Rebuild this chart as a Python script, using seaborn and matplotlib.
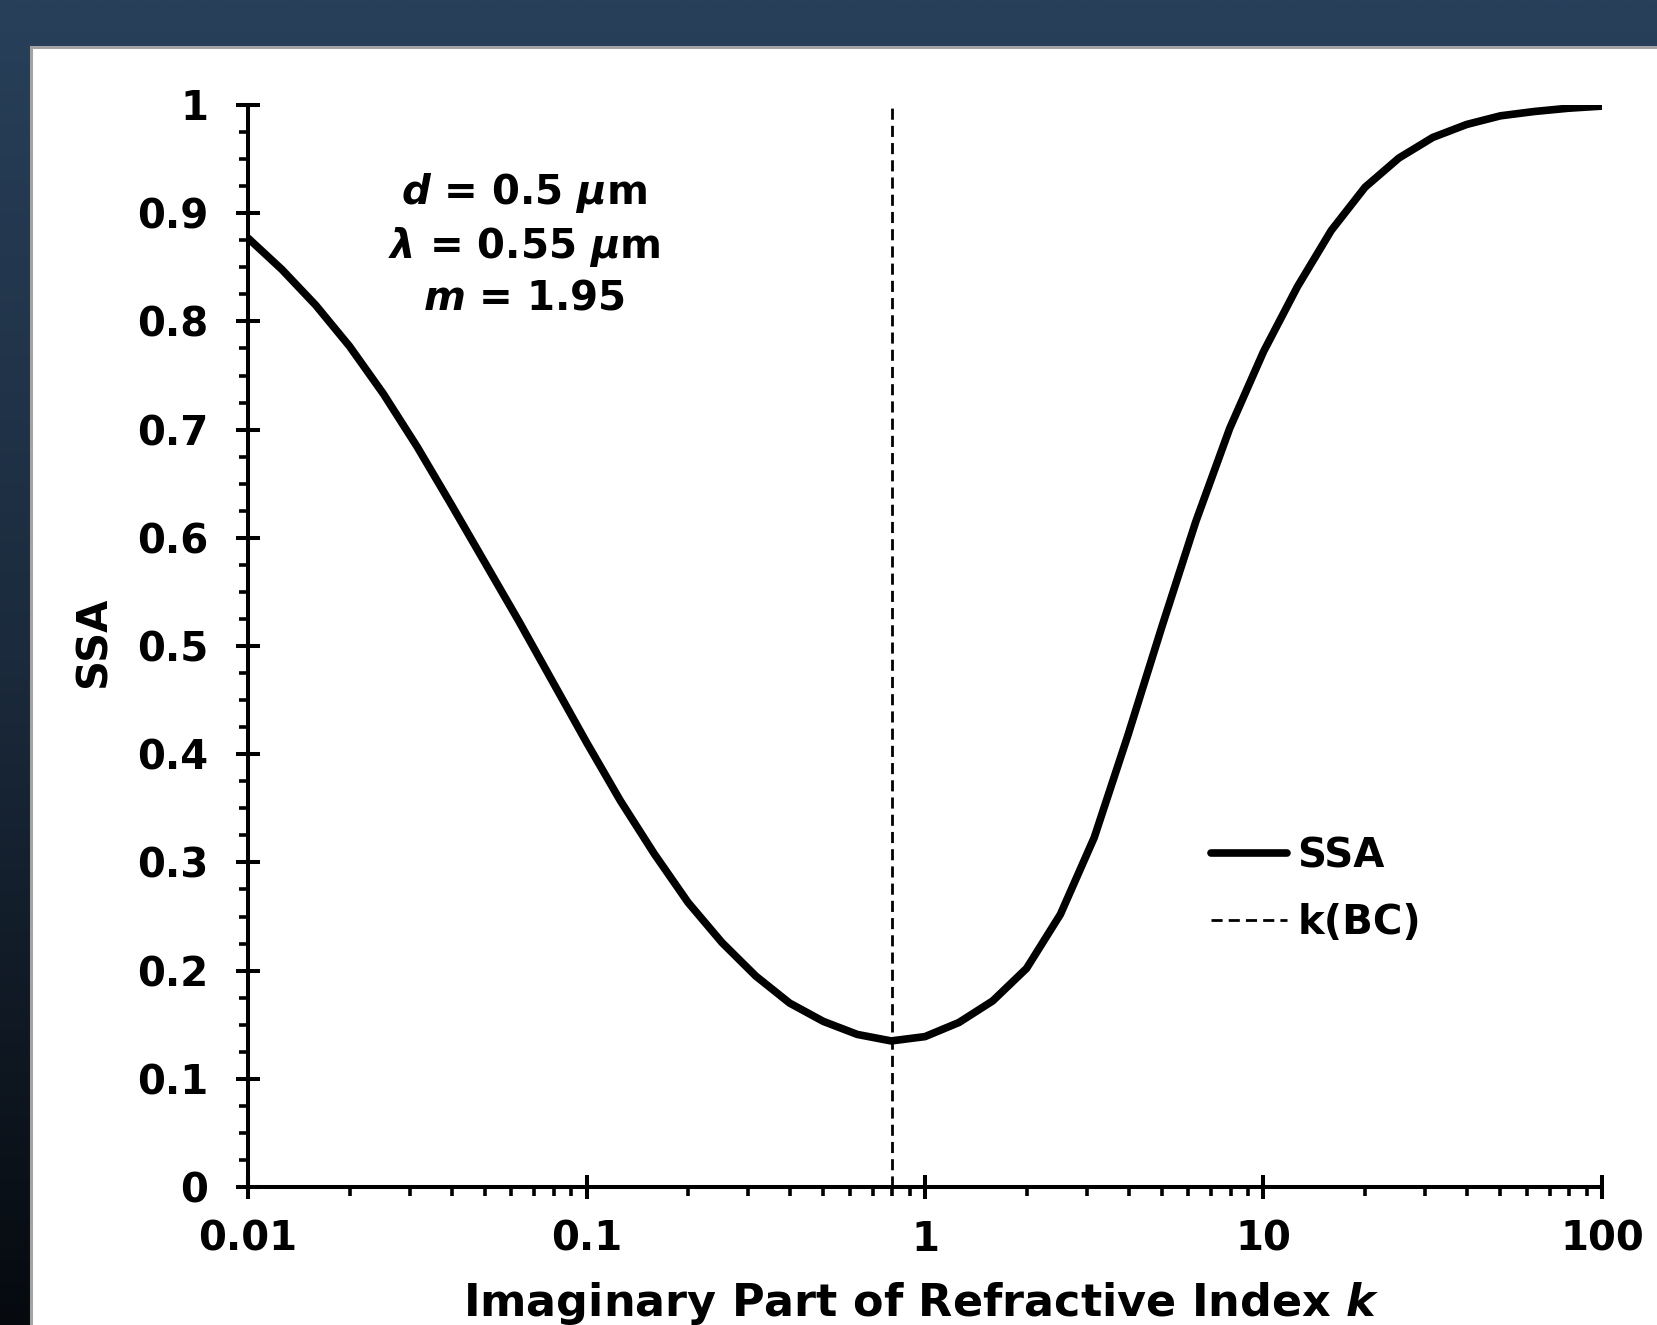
import numpy as np
import pandas as pd
import seaborn as sns
import matplotlib
matplotlib.use("Agg")
import matplotlib.pyplot as plt
from matplotlib.patches import Rectangle
from matplotlib.ticker import FixedLocator, FixedFormatter, LogLocator, MultipleLocator, NullFormatter

# ---------------- data ----------------
k_values = [0.01, 0.01259, 0.01585, 0.01995, 0.02512, 0.03162, 0.03981, 0.05012,
            0.0631, 0.07943, 0.1, 0.1259, 0.1585, 0.1995, 0.2512, 0.3162, 0.3981,
            0.5012, 0.631, 0.7943, 1.0, 1.259, 1.585, 1.995, 2.512, 3.162, 3.981,
            5.012, 6.31, 7.943, 10.0, 12.59, 15.85, 19.95, 25.12, 31.62, 39.81,
            50.12, 63.1, 79.43, 100.0]
ssa_values = [0.877, 0.848, 0.815, 0.777, 0.733, 0.684, 0.631, 0.577,
              0.523, 0.467, 0.411, 0.357, 0.308, 0.263, 0.226, 0.195, 0.170,
              0.153, 0.141, 0.135, 0.139, 0.152, 0.172, 0.202, 0.252, 0.323, 0.418,
              0.518, 0.615, 0.701, 0.772, 0.832, 0.884, 0.924, 0.951, 0.970, 0.982,
              0.990, 0.994, 0.997, 0.999]
k_bc = 0.8

series_labels = ["SSA", "k(BC)"]
x_ticks = [0.01, 0.1, 1, 10, 100]
x_tick_labels = ["0.01", "0.1", "1", "10", "100"]
y_ticks = [0, 0.1, 0.2, 0.3, 0.4, 0.5, 0.6, 0.7, 0.8, 0.9, 1.0]
y_tick_labels = ["0", "0.1", "0.2", "0.3", "0.4", "0.5", "0.6", "0.7", "0.8", "0.9", "1"]
annotation_lines = [r"$d$ = 0.5 $\mu$m", r"$\lambda$ = 0.55 $\mu$m", r"$m$ = 1.95"]
x_label = r"Imaginary Part of Refractive Index $k$"
y_label = "SSA"

# ---------------- style ----------------
sns.set_theme(style="ticks")
plt.rcParams["font.family"] = ["DejaVu Sans"]
plt.rcParams["font.weight"] = "bold"
plt.rcParams["mathtext.fontset"] = "custom"
plt.rcParams["mathtext.rm"] = "DejaVu Sans:bold"
plt.rcParams["mathtext.bf"] = "DejaVu Sans:bold"
plt.rcParams["mathtext.it"] = "DejaVu Sans:italic:bold"
plt.rcParams["axes.unicode_minus"] = False

W, H = 1658, 1325
fig = plt.figure(figsize=(W / 100, H / 100), dpi=100)

# dark navy gradient background
bg = fig.add_axes([0, 0, 1, 1], zorder=-10)
t = np.linspace(0, 1, 400)
stops = [0.0, 0.5, 1.0]
cols = np.array([[40, 64, 90], [27, 42, 60], [6, 10, 15]]) / 255.0
grad = np.stack([np.interp(t, stops, cols[:, c]) for c in range(3)], axis=-1)[:, None, :]
bg.imshow(grad, aspect="auto", extent=[0, 1, 0, 1], interpolation="bilinear")
bg.set_axis_off()

# white panel
panel = Rectangle((31 / W, -0.01), 1.0, 1 - 47 / H + 0.01, transform=fig.transFigure,
                  facecolor="white", edgecolor="#a3a3a3", lw=2.2, zorder=-5)
fig.add_artist(panel)

# main axes
ax = fig.add_axes([248 / W, 1 - 1187 / H, 1354 / W, 1082 / H])
ax.set_facecolor("none")
ax.set_xscale("log")

df = pd.DataFrame({"k": k_values, "SSA": ssa_values})
sns.lineplot(data=df, x="k", y="SSA", ax=ax, color="black", lw=5.5,
             label=series_labels[0], sort=False, zorder=3)
for ln in ax.get_lines():
    ln.set_solid_joinstyle("round")
ax.axvline(k_bc, ymin=0, ymax=1, color="black", lw=2.0, linestyle="--",
           dashes=(4, 2.2), label=series_labels[1], zorder=2)

ax.set_xlim(0.01, 100)
ax.set_ylim(0, 1)

for side in ["top", "right"]:
    ax.spines[side].set_visible(False)
for side in ["left", "bottom"]:
    ax.spines[side].set_linewidth(2.9)
    ax.spines[side].set_color("black")

ax.xaxis.set_major_locator(FixedLocator(x_ticks))
ax.xaxis.set_major_formatter(FixedFormatter(x_tick_labels))
ax.xaxis.set_minor_locator(LogLocator(base=10, subs=np.arange(2, 10), numticks=20))
ax.xaxis.set_minor_formatter(NullFormatter())
ax.yaxis.set_major_locator(FixedLocator(y_ticks))
ax.yaxis.set_major_formatter(FixedFormatter(y_tick_labels))
ax.yaxis.set_minor_locator(MultipleLocator(0.025))

ax.tick_params(axis="both", which="major", direction="inout", length=17.5, width=2.9,
               color="black", labelsize=29, labelcolor="black")
ax.tick_params(axis="x", which="major", pad=15)
ax.tick_params(axis="y", which="major", pad=20)
ax.tick_params(axis="both", which="minor", direction="out", length=6.5, width=2.6, color="black")
for lab in ax.get_xticklabels() + ax.get_yticklabels():
    lab.set_fontweight("bold")

ax.set_xlabel(x_label, fontsize=32, fontweight="bold", color="black")
ax.xaxis.set_label_coords(0.497, -0.119)
ax.xaxis.label.set_va("baseline")
ax.set_ylabel(y_label, fontsize=30, fontweight="bold", color="black")
ax.yaxis.set_label_coords(-0.105, 0.504)
ax.yaxis.label.set_va("baseline")

ax.text(0.204, 0.871, "\n".join(annotation_lines), transform=ax.transAxes,
        ha="center", va="center", fontsize=29, fontweight="bold", linespacing=1.3,
        color="black")

handles, labels = ax.get_legend_handles_labels()
leg = ax.legend(handles, labels, loc="center left", bbox_to_anchor=(0.711, 0.275),
                frameon=False, borderpad=0, borderaxespad=0, handlelength=1.9,
                handletextpad=0.25, labelspacing=0.66,
                prop={"weight": "bold", "size": 29})
for txt in leg.get_texts():
    txt.set_color("black")

fig.savefig("out.png", dpi=100)
